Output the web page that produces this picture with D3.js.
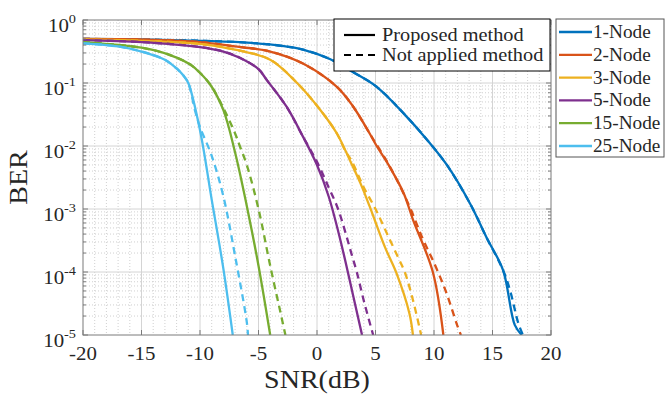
<!DOCTYPE html>
<html>
<head>
<meta charset="utf-8">
<script src="https://cdn.jsdelivr.net/npm/d3@7"></script>
<style>
body{margin:0;background:#fff}
svg{display:block}
</style>
</head>
<body>
<div id="container"></div>
<script>
// axis ticks
const snrTicks = [-20,-15,-10,-5,0,5,10,15,20];
const berExps = [0,-1,-2,-3,-4,-5];
const nodeNames = ["1-Node","2-Node","3-Node","5-Node","15-Node","25-Node"];
const nodeColors = ["#0072BD","#D95319","#EDB120","#7E2F8E","#77AC30","#4DBEEE"];
const methodNames = ["Proposed method","Not applied method"];

// [SNR (dB), BER]
const proposed1 = [[-20,0.50],[-15,0.49],[-10,0.468],[-6,0.437],[-3,0.389],[-1.2,0.339],[1.1,0.24],[3.1,0.148],[5.1,0.087],[7.4,0.033],[9.4,0.0126],[11.1,5.0e-3],[13.1,1.2e-3],[14.5,3.5e-4],[15.9,1.07e-4],[16.9,1.45e-5],[17.5,1e-5]];
const notApplied1 = [[-20,0.50],[-15,0.49],[-10,0.468],[-6,0.437],[-3,0.389],[-1.2,0.339],[1.1,0.24],[3.1,0.148],[5.1,0.087],[7.4,0.033],[9.4,0.0126],[11.1,5.0e-3],[13.1,1.2e-3],[14.5,3.5e-4],[15.9,1.07e-4],[16.5,5.1e-5],[17.2,1.55e-5],[17.6,1e-5]];

const proposed2 = [[-20,0.50],[-15,0.49],[-10,0.447],[-7,0.38],[-4,0.316],[-1.2,0.204],[1.7,0.087],[3.1,0.042],[4.5,0.0158],[5.1,0.01],[6.2,4.7e-3],[7.4,1.8e-3],[8.2,6.8e-4],[9.9,1e-4],[10.8,1e-5]];
const notApplied2 = [[-20,0.50],[-15,0.49],[-10,0.447],[-7,0.38],[-4,0.316],[-1.2,0.204],[1.7,0.087],[3.1,0.042],[4.5,0.0158],[5,0.0112],[6,5.6e-3],[7,2.5e-3],[8,1e-3],[9,3.5e-4],[10,1.4e-4],[11,5e-5],[12,1.4e-5],[12.3,1e-5]];

const proposed3 = [[-20,0.49],[-15,0.468],[-10,0.417],[-7,0.339],[-4,0.234],[-1.7,0.1],[0.3,0.037],[1.7,0.0158],[2.8,6.0e-3],[3.7,2.6e-3],[4.5,1.1e-3],[5.8,2.5e-4],[6.8,9.5e-5],[7.9,2.2e-5],[8.2,1e-5]];
const notApplied3 = [[-20,0.49],[-15,0.468],[-10,0.417],[-7,0.339],[-4,0.234],[-1.7,0.1],[0.3,0.037],[1.7,0.0158],[2.4,8.5e-3],[3,5.6e-3],[4,2.2e-3],[5,1e-3],[6,4e-4],[7,1.6e-4],[7.5,1e-4],[8.2,3.6e-5],[8.9,1e-5]];

const proposed5 = [[-20,0.48],[-15,0.447],[-10,0.372],[-8,0.316],[-6.6,0.251],[-5,0.166],[-4.3,0.112],[-2.6,0.042],[-1.2,0.0141],[0,5.0e-3],[1,1.58e-3],[2,3.2e-4],[3,5e-5],[3.85,1e-5]];
const notApplied5 = [[-20,0.48],[-15,0.447],[-10,0.372],[-8,0.316],[-6.6,0.251],[-5,0.166],[-4.3,0.112],[-2.6,0.042],[-1.2,0.0141],[0,5.6e-3],[1,2.2e-3],[1.8,1e-3],[3,1.8e-4],[3.4,1e-4],[4,3.5e-5],[4.8,1e-5]];

const proposed15 = [[-20,0.447],[-15,0.363],[-12.5,0.275],[-10.8,0.195],[-10,0.145],[-9.1,0.093],[-8,0.037],[-7,7.9e-3],[-6,1.12e-3],[-5,1.26e-4],[-4,1e-5]];
const notApplied15 = [[-20,0.447],[-15,0.363],[-12.5,0.275],[-10.8,0.195],[-10,0.145],[-9.1,0.093],[-8,0.04],[-7,0.0158],[-6.6,0.01],[-6,5e-3],[-5,1e-3],[-4,1.26e-4],[-3,1.8e-5],[-2.7,1e-5]];

const proposed25 = [[-20,0.427],[-17,0.38],[-15,0.316],[-13,0.234],[-12,0.17],[-11.4,0.13],[-11,0.1],[-10,0.0178],[-9,1.41e-3],[-8,1.12e-4],[-7.2,1e-5]];
const notApplied25 = [[-20,0.427],[-17,0.38],[-15,0.316],[-13,0.234],[-12,0.17],[-11.4,0.13],[-11,0.1],[-10.4,0.035],[-10,0.02],[-9,7e-3],[-8,1.58e-3],[-7,1.8e-4],[-6,1.6e-5],[-5.9,1e-5]];

const proposed = [proposed1,proposed2,proposed3,proposed5,proposed15,proposed25];
const notApplied = [notApplied1,notApplied2,notApplied3,notApplied5,notApplied15,notApplied25];

const width = 665, height = 394;
const pLeft = 83, pRight = 551, pTop = 20, pBottom = 335;
const serif = "'Liberation Serif','Times New Roman',serif";

const x = d3.scaleLinear().domain([-20,20]).range([pLeft,pRight]);
const y = d3.scaleLog().domain([1e-5,1]).range([pBottom,pTop]);

const svg = d3.select("#container")
  .append("svg")
    .attr("width",width)
    .attr("height",height)
    .style("font-family",serif);

// text is a bit wider than the font in the original, so stretch it
function label(g,txt,px,py,size,anchor,sx){
  return g.append("text")
    .attr("transform","translate("+px+","+py+") scale("+(sx||1.1)+",1)")
    .attr("text-anchor",anchor||"start")
    .attr("fill","#262626")
    .style("font-family",serif)
    .style("font-size",size+"px")
    .text(txt);
}

// grid
const minorX = d3.range(-19,20).filter(d=>d%5!==0);
const minorY = [];
berExps.slice(1).forEach(e=>{ for(let k=2;k<10;k++) minorY.push(k*Math.pow(10,e)); });

const grid = svg.append("g");
grid.selectAll(".mx").data(minorX).join("line")
  .attr("x1",d=>x(d)).attr("x2",d=>x(d)).attr("y1",pTop).attr("y2",pBottom)
  .attr("stroke","#c4c4c4").attr("stroke-width",0.8).attr("stroke-dasharray","1,2");
grid.selectAll(".my").data(minorY).join("line")
  .attr("x1",pLeft).attr("x2",pRight).attr("y1",d=>y(d)).attr("y2",d=>y(d))
  .attr("stroke","#c4c4c4").attr("stroke-width",0.8).attr("stroke-dasharray","1,2");
grid.selectAll(".gx").data(snrTicks.slice(1,-1)).join("line")
  .attr("x1",d=>x(d)).attr("x2",d=>x(d)).attr("y1",pTop).attr("y2",pBottom)
  .attr("stroke","#d4d4d4").attr("stroke-width",1);
grid.selectAll(".gy").data(berExps.slice(1,-1)).join("line")
  .attr("x1",pLeft).attr("x2",pRight).attr("y1",d=>y(Math.pow(10,d))).attr("y2",d=>y(Math.pow(10,d)))
  .attr("stroke","#d4d4d4").attr("stroke-width",1);

// curves
svg.append("clipPath").attr("id","clip")
  .append("rect").attr("x",pLeft).attr("y",pTop-2).attr("width",pRight-pLeft).attr("height",pBottom-pTop+2);

const line = d3.line()
  .x(d=>x(d[0]))
  .y(d=>y(d[1]))
  .curve(d3.curveCatmullRom.alpha(0.5));

const curves = svg.append("g").attr("clip-path","url(#clip)")
  .attr("fill","none").attr("stroke-width",2.3);
nodeNames.forEach((n,i)=>{
  curves.append("path").datum(notApplied[i])
    .attr("d",line).attr("stroke",nodeColors[i]).attr("stroke-dasharray","7,5");
  curves.append("path").datum(proposed[i])
    .attr("d",line).attr("stroke",nodeColors[i]);
});

// frame + ticks
const axisCol = "#7a7a7a";
const frame = svg.append("g").attr("stroke",axisCol).attr("stroke-width",1);
frame.append("rect").attr("x",pLeft).attr("y",pTop).attr("width",pRight-pLeft).attr("height",pBottom-pTop).attr("fill","none");
frame.selectAll(".tb").data(snrTicks).join("line")
  .attr("x1",d=>x(d)).attr("x2",d=>x(d)).attr("y1",pBottom).attr("y2",pBottom-5);
frame.selectAll(".tt").data(snrTicks).join("line")
  .attr("x1",d=>x(d)).attr("x2",d=>x(d)).attr("y1",pTop).attr("y2",pTop+5);
[pLeft,pRight].forEach(function(ax){
  const dir = ax===pLeft?1:-1;
  const g = frame.append("g");
  g.selectAll("line.maj").data(berExps).join("line")
    .attr("x1",ax).attr("x2",ax+dir*5).attr("y1",d=>y(Math.pow(10,d))).attr("y2",d=>y(Math.pow(10,d)));
  g.selectAll("line.min").data(minorY).join("line")
    .attr("x1",ax).attr("x2",ax+dir*3).attr("y1",d=>y(d)).attr("y2",d=>y(d));
});

// tick labels
const labels = svg.append("g");
snrTicks.forEach(t=>label(labels,t,x(t),360,19,"middle"));
berExps.forEach(e=>{
  const yy = y(Math.pow(10,e));
  const t = labels.append("text")
    .attr("transform","translate(76,"+(yy+12)+") scale(1.1,1)")
    .attr("text-anchor","end")
    .attr("fill","#262626")
    .style("font-family",serif)
    .style("font-size","19px");
  t.append("tspan").text("10");
  t.append("tspan").attr("dy",-9).style("font-size","13px").text(e);
});

label(labels,"SNR(dB)",(pLeft+pRight)/2,388,25,"middle",1.12);
labels.append("text")
  .attr("transform","translate(27,"+((pTop+pBottom)/2)+") rotate(-90) scale(1.12,1)")
  .attr("text-anchor","middle")
  .attr("fill","#262626")
  .style("font-family",serif)
  .style("font-size","25px")
  .text("BER");

// legend: line style
const lg1 = svg.append("g");
lg1.append("rect").attr("x",334).attr("y",19).attr("width",216).attr("height",52)
  .attr("fill","#fff").attr("stroke","#000").attr("stroke-width",1);
methodNames.forEach((m,i)=>{
  const cy = 35+i*20;
  lg1.append("line").attr("x1",344).attr("x2",375).attr("y1",cy).attr("y2",cy)
    .attr("stroke","#000").attr("stroke-width",2.2)
    .attr("stroke-dasharray",i===1?"7,5":null);
  label(lg1,m,382,cy+6,19,"start",1.07);
});

// legend: nodes
const lg2 = svg.append("g");
lg2.append("rect").attr("x",556).attr("y",19).attr("width",108).attr("height",138)
  .attr("fill","#fff").attr("stroke","#555").attr("stroke-width",1);
nodeNames.forEach((n,i)=>{
  const cy = 32+i*22.8;
  lg2.append("line").attr("x1",559).attr("x2",592).attr("y1",cy).attr("y2",cy)
    .attr("stroke",nodeColors[i]).attr("stroke-width",2.3);
  label(lg2,n,593,cy+6,18,"start",1.07);
});
</script>
</body>
</html>
